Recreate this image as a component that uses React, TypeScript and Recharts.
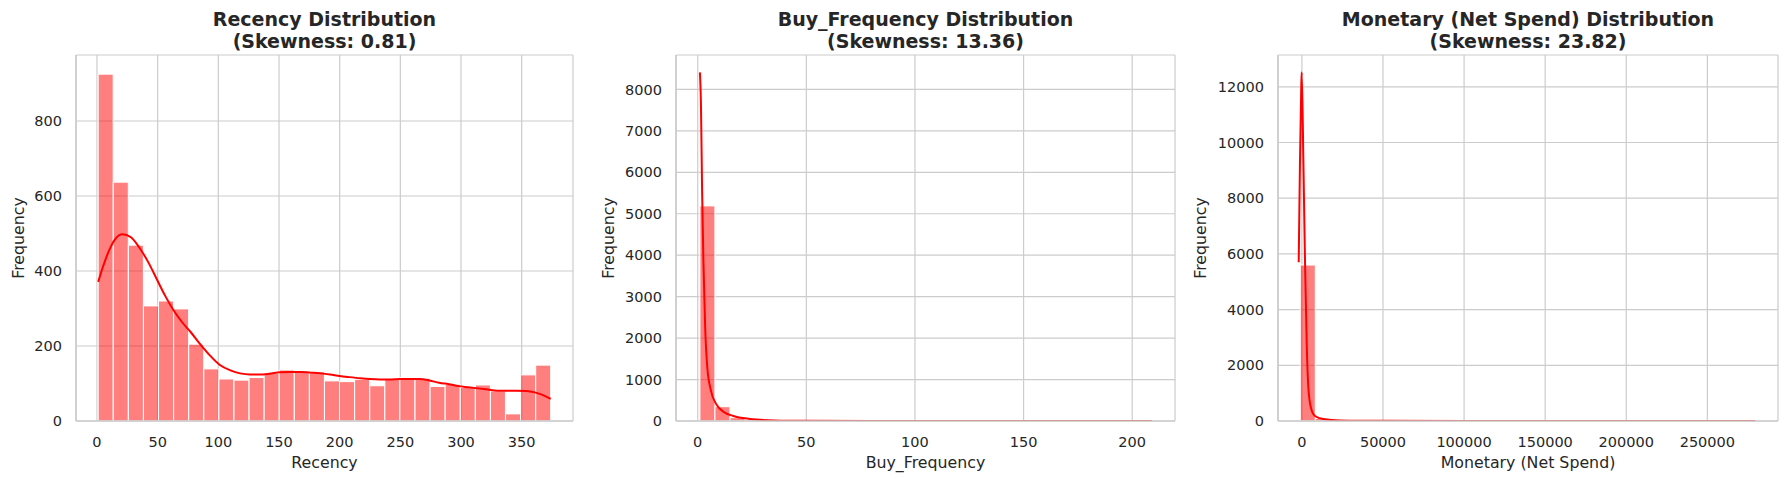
import React from 'react';
import { ComposedChart, Bar, Line, XAxis, YAxis, CartesianGrid } from 'recharts';

// ---------- Recency ----------
const recencyBinCenters = [7.2, 19.65, 32.08, 44.52, 56.95, 69.38, 81.82, 94.25, 106.68, 119.12, 131.55, 143.98, 156.42, 168.85, 181.28, 193.72, 206.15, 218.58, 231.02, 243.45, 255.88, 268.32, 280.75, 293.18, 305.62, 318.05, 330.48, 342.92, 355.35, 367.78];
const recencyCounts = [925, 637, 469, 307, 320, 299, 205, 139, 112, 109, 116, 127, 136, 132, 132, 107, 105, 111, 94, 111, 116, 114, 92, 98, 90, 96, 80, 19, 123, 149];
const recencyKdeX = [1, 5, 10, 15, 21, 28, 35, 42, 49, 56, 63, 70, 77, 85, 93, 101, 110, 118, 126, 134, 142, 151, 160, 168, 176, 184, 192, 200, 208, 217, 225, 233, 241, 250, 258, 266, 274, 282, 290, 298, 306, 314, 322, 330, 338, 346, 354, 360, 366, 374];
const recencyKdeY = [371, 412, 455, 485, 498, 490, 462, 425, 380, 335, 296, 264, 238, 205, 175, 150, 135, 127, 124, 124, 126, 130, 131, 131, 129, 127, 124, 120, 117, 114, 112, 111, 111, 112, 112, 112, 108, 102, 98, 93, 90, 87, 84, 81, 81, 81, 80, 77, 71, 59];
const recencyXTicks = [0, 50, 100, 150, 200, 250, 300, 350];
const recencyYTicks = [0, 200, 400, 600, 800];

// ---------- Buy_Frequency ----------
const freqBinCenters = [4.47, 11.4, 18.33, 25.27, 32.2, 39.13, 46.07, 53.0, 59.93, 66.87, 73.8, 80.73, 87.67, 94.6, 101.53, 108.47, 115.4, 122.33, 129.27, 136.2, 143.13, 150.07, 157.0, 163.93, 170.87, 177.8, 184.73, 191.67, 198.6, 205.53];
const freqCounts = [5190, 345, 80, 30, 15, 9, 6, 3, 3, 2, 1, 1, 0, 1, 0, 0, 1, 0, 0, 0, 0, 0, 0, 0, 0, 0, 0, 0, 0, 1];
const freqKdeX = [1, 1.5, 2, 2.6, 3.4, 4.4, 6, 8.7, 11.8, 16.4, 24, 35, 50, 80, 120, 160, 209];
const freqKdeY = [8410, 7600, 5600, 3900, 2300, 1300, 750, 390, 225, 120, 50, 15, 5, 2, 1, 1, 0];
const freqXTicks = [0, 50, 100, 150, 200];
const freqYTicks = [0, 1000, 2000, 3000, 4000, 5000, 6000, 7000, 8000];

// ---------- Monetary ----------
const monBinCenters = [3675, 13025, 22375, 31725, 41075, 50425, 59775, 69125, 78475, 87825, 97175, 106525, 115875, 125225, 134575, 143925, 153275, 162625, 171975, 181325, 190675, 200025, 209375, 218725, 228075, 237425, 246775, 256125, 265475, 274825];
const monCounts = [5600, 90, 20, 8, 5, 3, 2, 1, 1, 0, 0, 1, 0, 0, 0, 0, 0, 0, 0, 0, 0, 0, 0, 0, 0, 0, 0, 0, 0, 1];
const monKdeX = [-1970, -1170, -400, -120, 900, 1900, 2960, 3950, 5430, 8080, 13200, 23500, 50000, 100000, 200000, 279500];
const monKdeY = [5700, 9370, 12000, 12520, 9370, 5780, 2800, 1230, 514, 180, 72, 20, 5, 2, 1, 0];
const monXTicks = [0, 50000, 100000, 150000, 200000, 250000];
const monYTicks = [0, 2000, 4000, 6000, 8000, 10000, 12000];

const zip = (xs: number[], ys: number[]) => xs.map((x, i) => ({ x, y: ys[i] }));

const FONT = "'DejaVu Sans', sans-serif";
const TEXT = '#262626';
const GRID = '#cccccc';

type PanelProps = {
  chartLeft: number;
  yAxisWidth: number;
  plotWidth: number;
  rightMargin: number;
  title1: string;
  title2: string;
  xLabel: string;
  bins: { x: number; y: number }[];
  kde: { x: number; y: number }[];
  xDomain: [number, number];
  yDomain: [number, number];
  xTicks: number[];
  yTicks: number[];
  yLabelOffset: number;
};

function Panel(p: PanelProps) {
  const width = p.yAxisWidth + p.plotWidth + p.rightMargin;
  const plotCenter = p.chartLeft + p.yAxisWidth + p.plotWidth / 2;
  return (
    <>
      <div
        style={{
          position: 'absolute',
          left: plotCenter - 300,
          width: 600,
          top: 9,
          textAlign: 'center',
          fontFamily: FONT,
          fontWeight: 'bold',
          fontSize: 19,
          lineHeight: '21.5px',
          color: TEXT,
        }}
      >
        <div>{p.title1}</div>
        <div>{p.title2}</div>
      </div>
      <div style={{ position: 'absolute', left: p.chartLeft, top: 0 }}>
        <ComposedChart
          width={width}
          height={483}
          data={p.bins}
          margin={{ top: 55, right: p.rightMargin, bottom: 0, left: 0 }}
          barCategoryGap={0}
          barGap={0}
        >
          <CartesianGrid stroke={GRID} strokeWidth={1.2} />
          <XAxis
            dataKey="x"
            type="number"
            domain={p.xDomain}
            allowDataOverflow
            ticks={p.xTicks}
            interval={0}
            height={62}
            tickLine={false}
            tickSize={0}
            tickMargin={16}
            axisLine={{ stroke: GRID, strokeWidth: 1.6 }}
            tick={{ fill: TEXT, fontSize: 14.5, fontFamily: FONT }}
            label={{ value: p.xLabel, position: 'insideBottom', offset: 15, fill: TEXT, fontSize: 15.8, fontFamily: FONT }}
          />
          <XAxis xAxisId="kde" dataKey="x" type="number" domain={p.xDomain} allowDataOverflow hide />
          <XAxis
            xAxisId="top"
            orientation="top"
            type="number"
            domain={p.xDomain}
            allowDataOverflow
            height={0}
            tick={false}
            tickLine={false}
            axisLine={{ stroke: GRID, strokeWidth: 1.6 }}
          />
          <YAxis
            type="number"
            domain={p.yDomain}
            allowDataOverflow
            ticks={p.yTicks}
            interval={0}
            width={p.yAxisWidth}
            tickLine={false}
            tickSize={0}
            tickMargin={14}
            axisLine={{ stroke: GRID, strokeWidth: 1.6 }}
            tick={{ fill: TEXT, fontSize: 14.5, fontFamily: FONT }}
            label={{
              value: 'Frequency',
              angle: -90,
              position: 'insideLeft',
              offset: p.yLabelOffset,
              fill: TEXT,
              fontSize: 15.8,
              fontFamily: FONT,
              style: { textAnchor: 'middle' },
            }}
          />
          <YAxis
            yAxisId="right"
            orientation="right"
            type="number"
            domain={[0, 1]}
            width={0}
            tick={false}
            tickLine={false}
            axisLine={{ stroke: GRID, strokeWidth: 1.6 }}
          />
          <Bar
            dataKey="y"
            fill="#ff0000"
            fillOpacity={0.5}
            stroke="#ffffff"
            strokeWidth={1}
            isAnimationActive={false}
          />
          <Line
            xAxisId="kde"
            data={p.kde}
            dataKey="y"
            type="monotone"
            stroke="#ff0000"
            strokeWidth={2}
            dot={false}
            activeDot={false}
            isAnimationActive={false}
          />
        </ComposedChart>
      </div>
    </>
  );
}

export default function App() {
  return (
    <div style={{ position: 'absolute', left: 0, top: 0, width: 1783, height: 483, background: '#ffffff', fontFamily: FONT }}>
      <Panel
        chartLeft={0}
        yAxisWidth={76}
        plotWidth={497}
        rightMargin={7}
        title1="Recency Distribution"
        title2="(Skewness: 0.81)"
        xLabel="Recency"
        bins={zip(recencyBinCenters, recencyCounts)}
        kde={zip(recencyKdeX, recencyKdeY)}
        xDomain={[-17.3, 392.3]}
        yDomain={[0, 976]}
        xTicks={recencyXTicks}
        yTicks={recencyYTicks}
        yLabelOffset={18}
      />
      <Panel
        chartLeft={590}
        yAxisWidth={86}
        plotWidth={499}
        rightMargin={5}
        title1="Buy_Frequency Distribution"
        title2="(Skewness: 13.36)"
        xLabel="Buy_Frequency"
        bins={zip(freqBinCenters, freqCounts)}
        kde={zip(freqKdeX, freqKdeY)}
        xDomain={[-10, 219.7]}
        yDomain={[0, 8830]}
        xTicks={freqXTicks}
        yTicks={freqYTicks}
        yLabelOffset={18.5}
      />
      <Panel
        chartLeft={1180}
        yAxisWidth={98}
        plotWidth={500}
        rightMargin={5}
        title1="Monetary (Net Spend) Distribution"
        title2="(Skewness: 23.82)"
        xLabel="Monetary (Net Spend)"
        bins={zip(monBinCenters, monCounts)}
        kde={zip(monKdeX, monKdeY)}
        xDomain={[-14737, 293560]}
        yDomain={[0, 13142]}
        xTicks={monXTicks}
        yTicks={monYTicks}
        yLabelOffset={20}
      />
    </div>
  );
}
